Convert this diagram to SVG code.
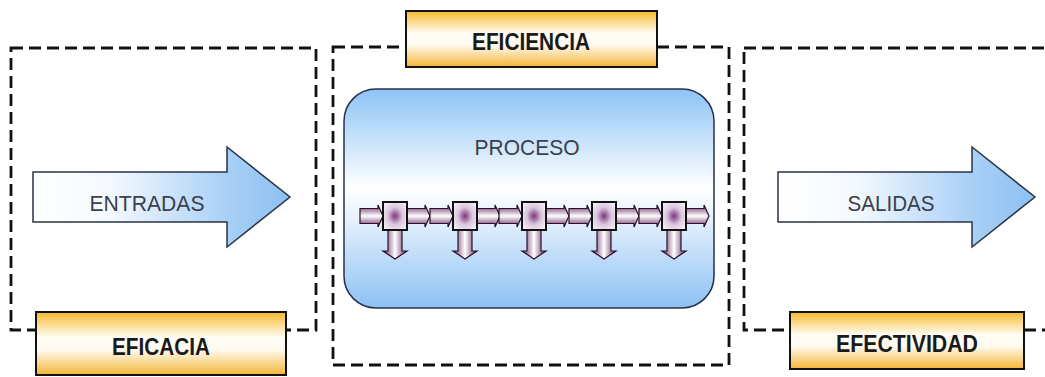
<svg xmlns="http://www.w3.org/2000/svg" xmlns:xlink="http://www.w3.org/1999/xlink" width="1045" height="377" viewBox="0 0 1045 377">
<style>
.dash{fill:none;stroke:#111;stroke-width:2.8;stroke-dasharray:12,6}
.lbl{fill:url(#gold);stroke:#111;stroke-width:2}
.bold{font-family:"Liberation Sans",Arial,sans-serif;font-weight:bold;font-size:24px;fill:#1a1a1a;text-anchor:middle}
.norm{font-family:"Liberation Sans",Arial,sans-serif;font-size:22px;fill:#3a3f4c;text-anchor:middle}
.bigarrow{fill:url(#blueH);stroke:#2a3344;stroke-width:1.5}
.hArr{fill:url(#purpV);stroke:#2a0f2a;stroke-width:1.2}
.vArr{fill:url(#purpH);stroke:#2a0f2a;stroke-width:1.2}
.sq{fill:url(#purpR);stroke:#111;stroke-width:2}
</style>
<defs>
<linearGradient id="gold" x1="0" y1="0" x2="0" y2="1">
<stop offset="0" stop-color="#f6b92b"/>
<stop offset="0.4" stop-color="#fffdf5"/>
<stop offset="0.6" stop-color="#fffaf0"/>
<stop offset="1" stop-color="#f4b536"/>
</linearGradient>
<linearGradient id="blueH" x1="0" y1="0" x2="1" y2="0">
<stop offset="0" stop-color="#ffffff"/>
<stop offset="0.3" stop-color="#f4f9fe"/>
<stop offset="0.75" stop-color="#a9d0f6"/>
<stop offset="1" stop-color="#8cc0f2"/>
</linearGradient>
<linearGradient id="proc" x1="0" y1="0" x2="0" y2="1">
<stop offset="0" stop-color="#8cc3f5"/>
<stop offset="0.45" stop-color="#ffffff"/>
<stop offset="0.6" stop-color="#e4f0fc"/>
<stop offset="1" stop-color="#8cc1f3"/>
</linearGradient>
<linearGradient id="purpV" x1="0" y1="0" x2="0" y2="1">
<stop offset="0" stop-color="#62265f"/>
<stop offset="0.5" stop-color="#ffffff"/>
<stop offset="1" stop-color="#62265f"/>
</linearGradient>
<linearGradient id="purpH" x1="0" y1="0" x2="1" y2="0">
<stop offset="0" stop-color="#62265f"/>
<stop offset="0.5" stop-color="#ffffff"/>
<stop offset="1" stop-color="#62265f"/>
</linearGradient>
<radialGradient id="purpR" cx="0.5" cy="0.5" r="0.6">
<stop offset="0" stop-color="#7d357d"/>
<stop offset="0.5" stop-color="#d8c4dc"/>
<stop offset="1" stop-color="#f4eef6"/>
</radialGradient>
<path id="ha" d="M0,-7.5 L18,-7.5 L18,-11 L23,0 L18,11 L18,7.5 L0,7.5 Z"/>
<g id="unit">
<path class="vArr" d="M-7,14 L7,14 L7,35 L12,35 L0,43 L-12,35 L-7,35 Z"/>
<rect class="sq" x="-12" y="-14" width="24" height="28"/>
</g>
</defs>

<g id="box-entradas">
<rect class="dash" x="11" y="48" width="305" height="282"/>
</g>
<g id="box-proceso">
<rect class="dash" x="333" y="47" width="396" height="318"/>
</g>
<g id="box-salidas">
<rect class="dash" x="744" y="48" width="320" height="282"/>
</g>

<g id="entradas">
<path class="bigarrow" d="M33,172 L227,172 L227,147 L290,197 L227,247 L227,222 L33,222 Z"/>
<text class="norm" x="147" y="211" textLength="115" lengthAdjust="spacingAndGlyphs">ENTRADAS</text>
</g>

<g id="salidas">
<path class="bigarrow" d="M778,172 L972,172 L972,147 L1035,197 L972,247 L972,222 L778,222 Z"/>
<text class="norm" x="891" y="211" textLength="87" lengthAdjust="spacingAndGlyphs">SALIDAS</text>
</g>

<g id="proceso">
<rect x="344" y="89" width="370" height="219" rx="32" ry="32" fill="url(#proc)" stroke="#26304a" stroke-width="1.5"/>
<text class="norm" x="527" y="155" textLength="105" lengthAdjust="spacingAndGlyphs">PROCESO</text>
<g id="chain" transform="translate(0,216)">
<use xlink:href="#ha" class="hArr" transform="translate(360,0)"/>
<use xlink:href="#ha" class="hArr" transform="translate(407,0)"/>
<use xlink:href="#ha" class="hArr" transform="translate(430,0)"/>
<use xlink:href="#ha" class="hArr" transform="translate(477,0)"/>
<use xlink:href="#ha" class="hArr" transform="translate(499,0)"/>
<use xlink:href="#ha" class="hArr" transform="translate(546,0)"/>
<use xlink:href="#ha" class="hArr" transform="translate(569,0)"/>
<use xlink:href="#ha" class="hArr" transform="translate(616,0)"/>
<use xlink:href="#ha" class="hArr" transform="translate(639,0)"/>
<use xlink:href="#ha" class="hArr" transform="translate(686,0)"/>
<use xlink:href="#unit" transform="translate(395,0)"/>
<use xlink:href="#unit" transform="translate(465,0)"/>
<use xlink:href="#unit" transform="translate(534,0)"/>
<use xlink:href="#unit" transform="translate(604,0)"/>
<use xlink:href="#unit" transform="translate(674,0)"/>
</g>
</g>

<g id="eficacia">
<rect class="lbl" x="36" y="312" width="250" height="63"/>
<text class="bold" x="161" y="355" textLength="98" lengthAdjust="spacingAndGlyphs">EFICACIA</text>
</g>
<g id="eficiencia">
<rect class="lbl" x="406" y="11" width="251" height="56"/>
<text class="bold" x="531" y="50" textLength="118" lengthAdjust="spacingAndGlyphs">EFICIENCIA</text>
</g>
<g id="efectividad">
<rect class="lbl" x="790" y="312" width="234" height="57"/>
<text class="bold" x="907" y="352" textLength="142" lengthAdjust="spacingAndGlyphs">EFECTIVIDAD</text>
</g>
</svg>
